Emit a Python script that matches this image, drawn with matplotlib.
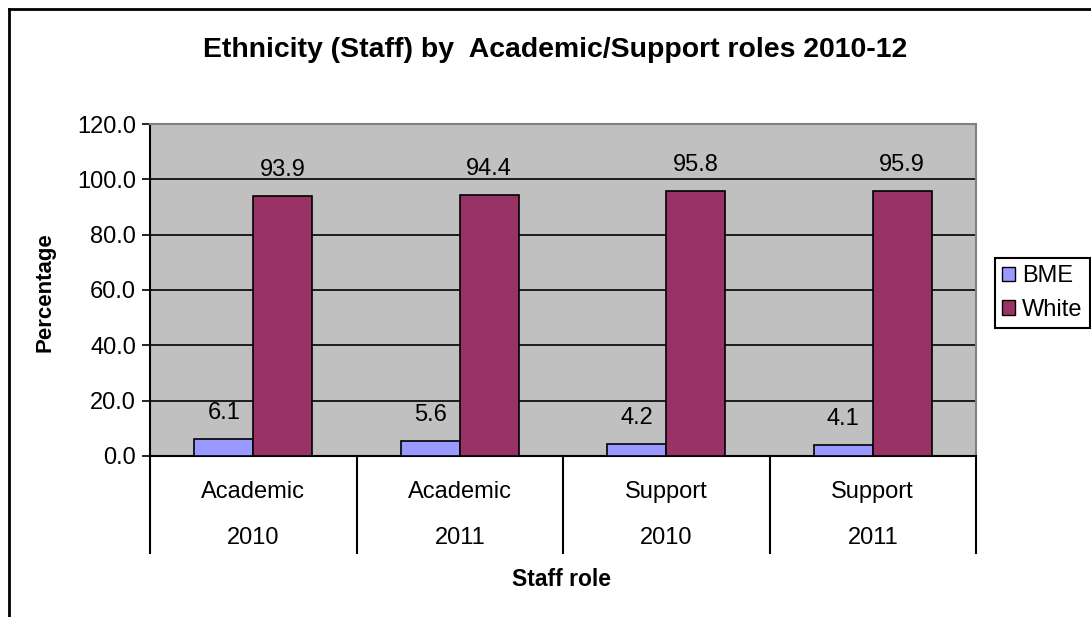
import numpy as np
import matplotlib
matplotlib.use('Agg')
import matplotlib.pyplot as plt
from matplotlib.patches import Patch

plt.rcParams['font.family'] = ['Liberation Sans', 'DejaVu Sans']

# Staff ethnicity by role and year (percent)
roles = ['Academic', 'Academic', 'Support', 'Support']
years = ['2010', '2011', '2010', '2011']
bme = [6.1, 5.6, 4.2, 4.1]
white = [93.9, 94.4, 95.8, 95.9]

W, H = 1091, 617
fs = 17
fig = plt.figure(figsize=(W / 100, H / 100), dpi=100)

# chart frame (runs off the right and bottom edges)
fig.add_artist(plt.Line2D([9 / W, 9 / W], [1 - 9 / H, -0.1], color='black', lw=2))
fig.add_artist(plt.Line2D([9 / W, 1.1], [1 - 9 / H, 1 - 9 / H], color='black', lw=2))

ax = fig.add_axes([150 / W, 161 / H, 826 / W, 332 / H])
ax.set_facecolor('#C0C0C0')

x = np.arange(len(roles))
w = 1 / 3.5
b1 = ax.bar(x - w / 2, bme, w, color='#9999FF', edgecolor='black', lw=1.2, zorder=3)
b2 = ax.bar(x + w / 2, white, w, color='#993366', edgecolor='black', lw=1.2, zorder=3)

for bars, vals in [(b1, bme), (b2, white)]:
    for rect, v in zip(bars, vals):
        ax.annotate(f'{v:.1f}', (rect.get_x() + rect.get_width() / 2, v),
                    xytext=(0, 26), textcoords='offset pixels',
                    ha='center', va='center', fontsize=fs)

ax.set_xlim(-0.5, len(roles) - 0.5)
ax.set_ylim(0, 120)
yt = np.arange(0, 121, 20)
ax.set_yticks(yt)
ax.set_yticklabels([f'{v:.1f}' for v in yt], fontsize=fs)
ax.tick_params(axis='y', length=6, width=1.2, pad=4)
ax.set_xticks([])
for v in yt[1:-1]:
    ax.axhline(v, color='black', lw=1.2, zorder=1)

for s in ['left', 'bottom']:
    ax.spines[s].set_color('black')
    ax.spines[s].set_linewidth(1.5)
for s in ['top', 'right']:
    ax.spines[s].set_color('#808080')
    ax.spines[s].set_linewidth(1.5)

# two-level category axis
tr = ax.get_xaxis_transform()
for xs in np.arange(-0.5, len(roles), 1):
    ax.plot([xs, xs], [0, -97 / 332], color='black', lw=1.5,
            transform=tr, clip_on=False)
for i in range(len(roles)):
    ax.annotate(roles[i], (i, 0), xycoords=tr, xytext=(0, -36),
                textcoords='offset pixels', ha='center', va='center', fontsize=fs)
    ax.annotate(years[i], (i, 0), xycoords=tr, xytext=(0, -82),
                textcoords='offset pixels', ha='center', va='center', fontsize=fs)

fig.text(555 / W, 1 - 50 / H, 'Ethnicity (Staff) by  Academic/Support roles 2010-12',
         ha='center', va='center', fontsize=20.4, fontweight='bold')
fig.text(45 / W, 1 - 292 / H, 'Percentage', rotation=90,
         ha='center', va='center', fontsize=16, fontweight='bold')
fig.text(561 / W, 1 - 580 / H, 'Staff role',
         ha='center', va='center', fontsize=16.5, fontweight='bold')

handles = [Patch(facecolor='#9999FF', edgecolor='black'),
           Patch(facecolor='#993366', edgecolor='black')]
leg = fig.legend(handles, ['BME', 'White'], loc='center left',
                 bbox_to_anchor=(995 / W, 1 - 293 / H), fontsize=fs,
                 fancybox=False, framealpha=1, edgecolor='black',
                 handlelength=0.55, handleheight=0.55, handletextpad=0.3,
                 borderpad=0.3, labelspacing=0.5, borderaxespad=0)
leg.get_frame().set_linewidth(1.5)

fig.savefig('out.png', dpi=100)
